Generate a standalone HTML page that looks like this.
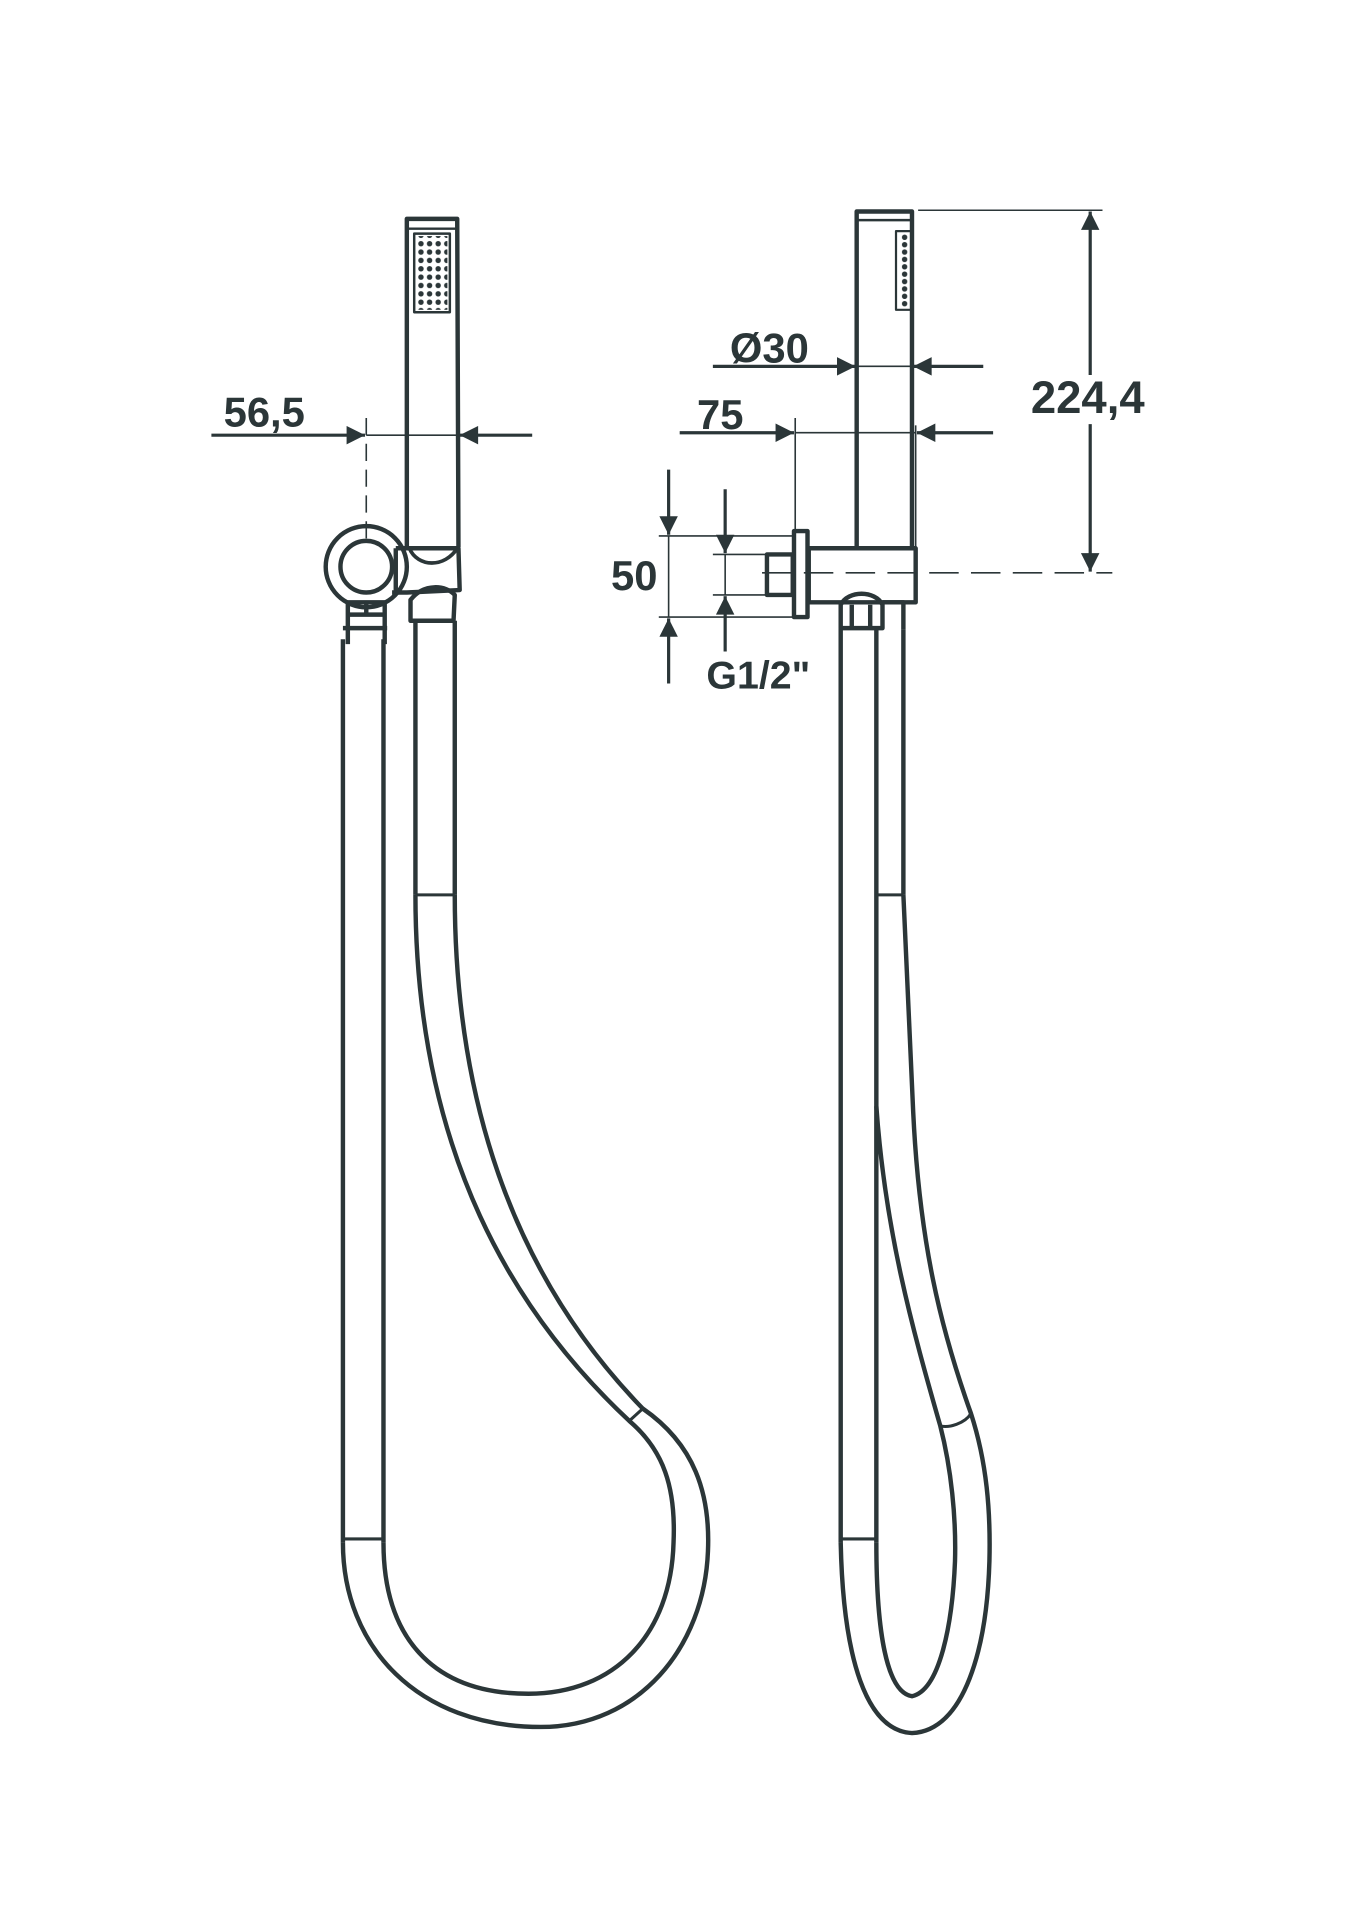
<!DOCTYPE html>
<html><head><meta charset="utf-8"><style>
html,body{margin:0;padding:0;background:#fff}
svg{display:block}
text{font-family:"Liberation Sans",sans-serif;font-weight:bold;fill:#2b3638}
</style></head><body>
<svg width="1352" height="1920" viewBox="0 0 1100 1562" xmlns="http://www.w3.org/2000/svg">
<defs>
<marker id="a" viewBox="0 0 10 10" refX="10" refY="5" markerWidth="26" markerHeight="15" markerUnits="userSpaceOnUse" orient="auto"><path d="M0,0L10,5L0,10z" fill="#2b3638"/></marker>
<pattern id="dots" x="339" y="188" width="7" height="6.8" patternUnits="userSpaceOnUse"><circle cx="3.5" cy="3.4" r="2.2" fill="#2b3638"/></pattern>
<pattern id="dots2" x="731" y="190" width="10" height="6" patternUnits="userSpaceOnUse"><circle cx="5" cy="3" r="2.2" fill="#2b3638"/></pattern>
</defs>
<g fill="none" stroke="#2b3638" stroke-width="3.6" stroke-linejoin="round">
<path d="M331,445 L331,178 L372,178 L373,445"/>
<line x1="331" y1="186" x2="372" y2="186" stroke-width="2"/>
<rect x="337" y="190" width="29" height="64" stroke-width="2"/>
<rect x="339" y="192" width="25" height="60" fill="url(#dots)" stroke="none"/>
<circle cx="298" cy="461" r="33"/>
<circle cx="298" cy="461" r="21"/>
<path d="M322,446 L373,446 L374,480 L331,482 L319,482"/>
<path d="M333,446 C340,462 362,462 372,446" stroke-width="3"/>
<line x1="322" y1="446" x2="322" y2="482"/>
<path d="M283,524 L283,490 L313,490 L313,524"/>
<line x1="283" y1="500" x2="313" y2="500"/>
<line x1="298" y1="490" x2="298" y2="500"/>
<line x1="279" y1="511" x2="315" y2="511"/>
<path d="M334,505 L334,488 C345,474 363,476 370,484 L369,505 Z"/>
<path d="M279,520 L279,1255"/><path d="M312,520 L312,1255"/>
<line x1="279" y1="1252" x2="312" y2="1252" stroke-width="2.5"/>
<path d="M338,505 L338,728"/><path d="M370,505 L370,728"/>
<line x1="338" y1="728" x2="370" y2="728" stroke-width="2.5"/>
<path d="M370,728 C370,900 420,1040 523,1146 C565,1175 578,1215 576,1262 C573,1340 520,1405 440,1405 C340,1405 279,1340 279,1255"/>
<path d="M338,728 C338,940 420,1070 512,1156 C540,1180 550,1210 548,1255 C546,1330 500,1378 430,1378 C350,1378 312,1330 312,1255"/>
<line x1="512" y1="1156" x2="523" y2="1146" stroke-width="2.5"/>
<path d="M697,445 L697,172 L742,172 L742,445"/>
<line x1="697" y1="179" x2="742" y2="179" stroke-width="2"/>
<rect x="729" y="188" width="13" height="64" stroke-width="1.8"/>
<rect x="731" y="190" width="10" height="60" fill="url(#dots2)" stroke="none"/>
<rect x="658" y="446" width="87" height="44"/>
<rect x="646" y="432" width="11" height="70"/>
<rect x="624" y="451" width="21" height="33"/>
<path d="M684,511 L684,492 C690,480 712,480 718,492 L718,511 Z"/>
<line x1="693" y1="492" x2="693" y2="511"/><line x1="708" y1="492" x2="708" y2="511"/>
<path d="M718,490 L735,490 L735,512"/>
<path d="M684,511 L684,1255"/><path d="M713,511 L713,1255"/>
<path d="M735,512 L735,728"/>
<line x1="713" y1="728" x2="735" y2="728" stroke-width="2.5"/>
<line x1="684" y1="1252" x2="713" y2="1252" stroke-width="2.5"/>
<path d="M735,728 L743,905 C748,1010 765,1080 790,1150 C803,1190 806,1230 805,1270 C803,1340 785,1408 742,1410 C705,1408 686,1350 684,1255"/>
<path d="M713,900 C720,1000 742,1080 765,1160 C774,1195 778,1235 777,1270 C775,1320 765,1375 742,1380 C722,1377 713,1330 713,1255"/>
<path d="M765,1160 C772,1162 785,1158 790,1150" stroke-width="2.5"/>
</g>
<g stroke="#2b3638" stroke-width="1.3" fill="none">
<line x1="298" y1="340" x2="298" y2="440" stroke-dasharray="14,7"/>
<line x1="298" y1="354" x2="372" y2="354"/>
<line x1="697" y1="298" x2="742" y2="298"/>
<line x1="647" y1="340" x2="647" y2="432"/>
<line x1="745" y1="346" x2="745" y2="445"/>
<line x1="647" y1="352" x2="745" y2="352"/>
<line x1="747" y1="171" x2="897" y2="171"/>
<line x1="620" y1="466" x2="905" y2="466" stroke-dasharray="24,10"/>
<line x1="536" y1="436" x2="645" y2="436"/>
<line x1="536" y1="502" x2="645" y2="502"/>
<line x1="544" y1="436" x2="544" y2="502"/>
<line x1="580" y1="451" x2="623" y2="451"/>
<line x1="580" y1="484" x2="623" y2="484"/>
<line x1="590" y1="451" x2="590" y2="484"/>
</g>
<g stroke="#2b3638" stroke-width="2.6" fill="none">
<line x1="172" y1="354" x2="297" y2="354" marker-end="url(#a)"/>
<line x1="433" y1="354" x2="374" y2="354" marker-end="url(#a)"/>
<line x1="580" y1="298" x2="696" y2="298" marker-end="url(#a)"/>
<line x1="800" y1="298" x2="743" y2="298" marker-end="url(#a)"/>
<line x1="553" y1="352" x2="646" y2="352" marker-end="url(#a)"/>
<line x1="808" y1="352" x2="746" y2="352" marker-end="url(#a)"/>
<line x1="887" y1="305" x2="887" y2="172" marker-end="url(#a)"/>
<line x1="887" y1="345" x2="887" y2="465" marker-end="url(#a)"/>
<line x1="544" y1="382" x2="544" y2="435" marker-end="url(#a)"/>
<line x1="544" y1="556" x2="544" y2="503" marker-end="url(#a)"/>
<line x1="590" y1="398" x2="590" y2="450" marker-end="url(#a)"/>
<line x1="590" y1="530" x2="590" y2="485" marker-end="url(#a)"/>
</g>
<text x="215" y="347" font-size="34" text-anchor="middle">56,5</text>
<text x="626" y="295" font-size="34" text-anchor="middle">Ø30</text>
<text x="586" y="349" font-size="34" text-anchor="middle">75</text>
<text x="885" y="336" font-size="37" text-anchor="middle">224,4</text>
<text x="516" y="480" font-size="34" text-anchor="middle">50</text>
<text x="617" y="560" font-size="32" text-anchor="middle">G1/2"</text>
</svg>
</body></html>
